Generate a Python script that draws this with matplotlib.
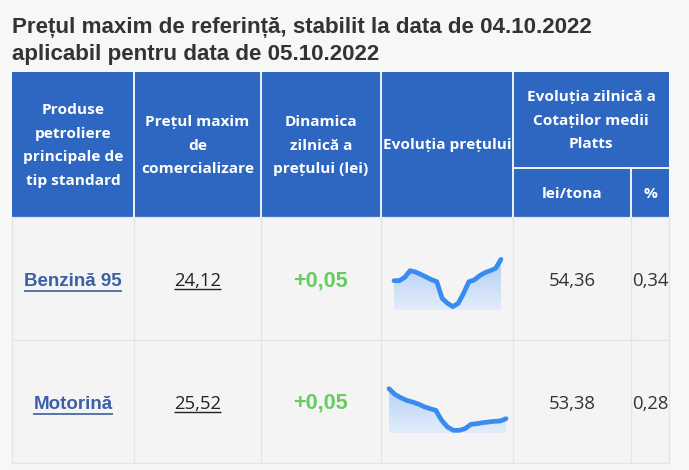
import numpy as np
import matplotlib
matplotlib.use("Agg")
import matplotlib.pyplot as plt
from matplotlib.patches import Rectangle
from matplotlib.colors import LinearSegmentedColormap

# ---------------- data ----------------
title_lines = ["Prețul maxim de referință, stabilit la data de 04.10.2022",
               "aplicabil pentru data de 05.10.2022"]
header_cols = [["Produse", "petroliere", "principale de", "tip standard"],
               ["Prețul maxim", "de", "comercializare"],
               ["Dinamica", "zilnică a", "prețului (lei)"],
               ["Evoluția prețului"]]
header_platts = ["Evoluția zilnică a", "Cotaților medii", "Platts"]
sub_headers = ["lei/tona", "%"]
products = ["Benzină 95", "Motorină"]
max_price = ["24,12", "25,52"]
daily_change = ["+0,05", "+0,05"]
platts_lei = ["54,36", "53,38"]
platts_pct = ["0,34", "0,28"]
# relative price evolution (sparklines, arbitrary units)
trend_benzina = [88, 88, 98, 118, 114, 107, 99, 91, 85, 35, 20, 10, 20, 50, 85, 90, 103, 112, 118, 125, 152]
trend_motorina = [133, 116, 106, 98, 93, 87, 79, 73, 68, 38, 18, 8, 8, 13, 26, 28, 31, 33, 35, 36, 43]
trends = [trend_benzina, trend_motorina]

# ---------------- layout ----------------
W, H = 689, 470
fig = plt.figure(figsize=(W / 100, H / 100), dpi=100)
fig.patch.set_facecolor("#f7f7f7")
ax = fig.add_axes([0, 0, 1, 1])
ax.set_xlim(0, W)
ax.set_ylim(H, 0)
ax.axis("off")
renderer = fig.canvas.get_renderer()

X = [12, 134, 261, 381, 513, 631, 669]
Y_TOP, Y_SPLIT, Y_HDR, ROW_B = 72, 168, 217, [340, 463]
HDR_BLUE = "#2e67c1"
GRID = "#e4e4e4"


def fit_size(text, family, weight, target_px):
    t = fig.text(0, 0, text, fontsize=10, family=family, weight=weight)
    w = t.get_window_extent(renderer).width
    t.remove()
    return 10 * target_px / w


def underline(t, y, color, lw):
    bb = t.get_window_extent(renderer)
    inv = ax.transData.inverted()
    (x0, _), (x1, _) = inv.transform([[bb.x0, bb.y0], [bb.x1, bb.y1]])
    ax.plot([x0, x1], [y, y], color=color, lw=lw, solid_capstyle="butt")


# title
ts = fit_size(title_lines[0], "Liberation Sans", "bold", 583)
for line, yb in zip(title_lines, [33, 60]):
    ax.text(12, yb, line, fontsize=ts, family="Liberation Sans", weight="bold",
            color="#333333", ha="left", va="baseline")

# header background and separators
ax.add_patch(Rectangle((X[0], Y_TOP), X[-1] - X[0], Y_HDR - Y_TOP, facecolor=HDR_BLUE, edgecolor="none"))
for xv in X[1:5]:
    ax.plot([xv, xv], [Y_TOP, Y_HDR], color="white", lw=1.3)
ax.plot([X[5], X[5]], [Y_SPLIT, Y_HDR], color="white", lw=1.3)
ax.plot([X[4], X[6]], [Y_SPLIT, Y_SPLIT], color="white", lw=1.3)

hs = fit_size("Evoluția prețului", "Open Sans", "bold", 129)
LS = 23.5


def header_block(lines, cx, cy):
    n = len(lines)
    for i, line in enumerate(lines):
        yb = cy + 5 + (i - (n - 1) / 2) * LS
        ax.text(cx, yb, line, fontsize=hs, family="Open Sans", weight="bold",
                color="white", ha="center", va="baseline")


for i, lines in enumerate(header_cols):
    header_block(lines, (X[i] + X[i + 1]) / 2, (Y_TOP + Y_HDR) / 2)
header_block(header_platts, (X[4] + X[6]) / 2, (Y_TOP + Y_SPLIT) / 2)
for j, s in enumerate(sub_headers):
    header_block([s], (X[4 + j] + X[5 + j]) / 2, (Y_SPLIT + Y_HDR) / 2)

# body
ax.add_patch(Rectangle((X[0], Y_HDR), X[-1] - X[0], ROW_B[-1] - Y_HDR,
                       facecolor="#f4f4f4", edgecolor=GRID, lw=0.9))
for xv in X[1:-1]:
    ax.plot([xv, xv], [Y_HDR, ROW_B[-1]], color=GRID, lw=0.9)
ax.plot([X[0], X[-1]], [ROW_B[0], ROW_B[0]], color=GRID, lw=0.9)

ps = fit_size(products[0], "Liberation Sans", "bold", 98)
ns = fit_size(max_price[0], "Open Sans", "normal", 47)
gs = fit_size(daily_change[0], "Liberation Sans", "bold", 55)

row_tops = [Y_HDR, ROW_B[0]]
for r in range(2):
    cy = (row_tops[r] + ROW_B[r]) / 2
    yb = cy + 7.5
    t = ax.text((X[0] + X[1]) / 2, yb, products[r], fontsize=ps, family="Liberation Sans",
                weight="bold", color="#3c5fa6", ha="center", va="baseline")
    underline(t, yb + 5, "#3c5fa6", 1.2)
    t = ax.text((X[1] + X[2]) / 2, yb, max_price[r], fontsize=ns, family="Open Sans",
                color="#222222", ha="center", va="baseline")
    underline(t, yb + 2.5, "#222222", 1.0)
    ax.text((X[2] + X[3]) / 2, yb, daily_change[r], fontsize=gs, family="Liberation Sans",
            weight="bold", color="#64cd5e", ha="center", va="baseline")
    ax.text((X[4] + X[5]) / 2, yb, platts_lei[r], fontsize=ns, family="Open Sans",
            color="#333333", ha="center", va="baseline")
    ax.text((X[5] + X[6]) / 2, yb, platts_pct[r], fontsize=ns, family="Open Sans",
            color="#333333", ha="center", va="baseline")

# sparklines
cmap = LinearSegmentedColormap.from_list("spark", ["#e3edfb", "#a6c8f4"])
spark_boxes = [(394, 501, 310), (389, 506, 433)]  # x0, x1, baseline (pixels)
for vals, (x0, x1, yb) in zip(trends, spark_boxes):
    sax = fig.add_axes([x0 / W, 1 - yb / H, (x1 - x0) / W, 60 / H])
    sax.set_xlim(0, len(vals) - 1)
    sax.set_ylim(0, 180)
    sax.axis("off")
    xs = np.arange(len(vals))
    poly = sax.fill_between(xs, 0, vals, color="none", lw=0)
    grad = np.linspace(1, 0, 256).reshape(-1, 1)
    im = sax.imshow(grad, extent=[0, len(vals) - 1, 0, 180], aspect="auto", cmap=cmap, zorder=1)
    im.set_clip_path(poly.get_paths()[0], transform=sax.transData)
    sax.plot(xs, vals, color="#3a8bef", lw=3.4, solid_capstyle="round",
             solid_joinstyle="round", clip_on=False, zorder=2)

fig.savefig("out.png", dpi=100, facecolor=fig.get_facecolor())
